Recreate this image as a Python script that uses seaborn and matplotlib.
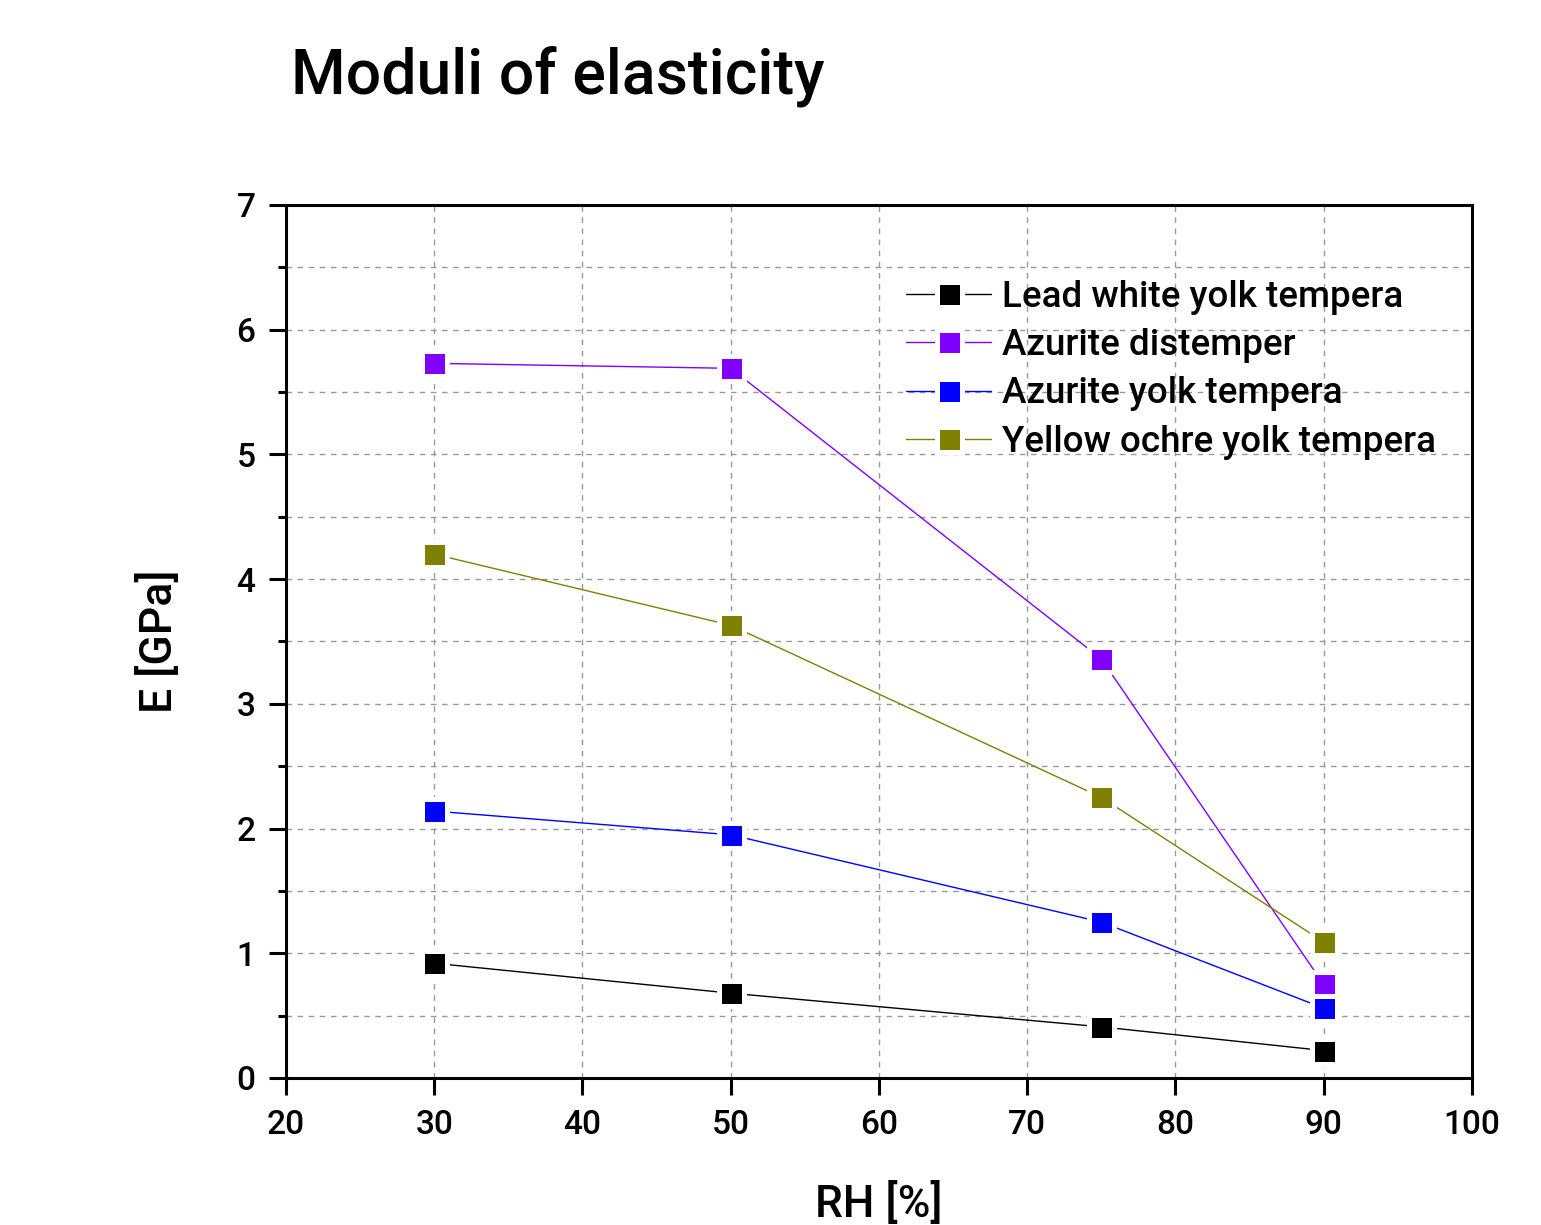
import pandas as pd
import seaborn as sns
import matplotlib.pyplot as plt
from matplotlib.ticker import MultipleLocator

# DATA
rh = [30, 50, 75, 90]
lead_white = [0.92, 0.68, 0.41, 0.22]
azurite_dist = [5.73, 5.69, 3.36, 0.75]
azurite_yolk = [2.14, 1.95, 1.25, 0.56]
ochre_yolk = [4.20, 3.63, 2.25, 1.09]

names = ['Lead white yolk tempera', 'Azurite distemper',
         'Azurite yolk tempera', 'Yellow ochre yolk tempera']
colors = ['#000000', '#8000FF', '#0000FF', '#808000']

rows = []
for name, vals in zip(names, [lead_white, azurite_dist, azurite_yolk, ochre_yolk]):
    for x, y in zip(rh, vals):
        rows.append({'RH': x, 'E': y, 'Sample': name})
df = pd.DataFrame(rows)

sns.set_style('white')
plt.rcParams['font.family'] = ['Roboto', 'DejaVu Sans']
plt.rcParams['font.weight'] = 'medium'
plt.rcParams['axes.labelweight'] = 'medium'
for k in ['text.color', 'axes.labelcolor', 'xtick.color', 'ytick.color']:
    plt.rcParams[k] = 'black'

fig = plt.figure(figsize=(15.41, 12.25), dpi=100)
ax = fig.add_axes([0.1856, 0.12, 0.7696, 0.7127])

# grid under the data
ax.set_axisbelow(True)
ax.grid(which='major', axis='both', color='#999999', linestyle=(0, (4, 4)), linewidth=1)
ax.grid(which='minor', axis='y', color='#999999', linestyle=(0, (4, 4)), linewidth=1)

sns.lineplot(data=df, x='RH', y='E', hue='Sample', style='Sample',
             palette=dict(zip(names, colors)), markers=['s'] * 4, dashes=False,
             markersize=18, mec='white', mew=3.6, linewidth=1, ax=ax)

ax.set_xlim(20, 100)
ax.set_ylim(0, 7)
ax.xaxis.set_major_locator(MultipleLocator(10))
ax.yaxis.set_major_locator(MultipleLocator(1))
ax.yaxis.set_minor_locator(MultipleLocator(0.5))
ax.tick_params(which='major', direction='out', length=12, width=2.2, labelsize=24,
               left=True, bottom=True, pad=10)
ax.tick_params(which='minor', axis='y', direction='out', length=6, width=2.2, left=True)
for lbl in ax.get_xticklabels() + ax.get_yticklabels():
    lbl.set_fontweight('medium')
for sp in ax.spines.values():
    sp.set_linewidth(2.2)
    sp.set_color('black')

ax.set_xlabel('RH [%]', fontsize=32, labelpad=30, fontweight='medium')
ax.set_ylabel('E [GPa]', fontsize=32, labelpad=40, fontweight='medium')

handles, labels = ax.get_legend_handles_labels()
for h in handles:
    h.set_markeredgecolor('white')
    h.set_markeredgewidth(3.6)
    h.set_markersize(18)
ax.legend(handles, labels, loc='upper left', bbox_to_anchor=(0.495, 0.952), frameon=False,
          fontsize=26.5, handlelength=2.3, handletextpad=0.3, labelspacing=0.36)

fig.text(0.189, 0.938, 'Moduli of elasticity', fontsize=45, va='center', ha='left',
         fontweight='medium')

fig.savefig('out.png', dpi=100)
